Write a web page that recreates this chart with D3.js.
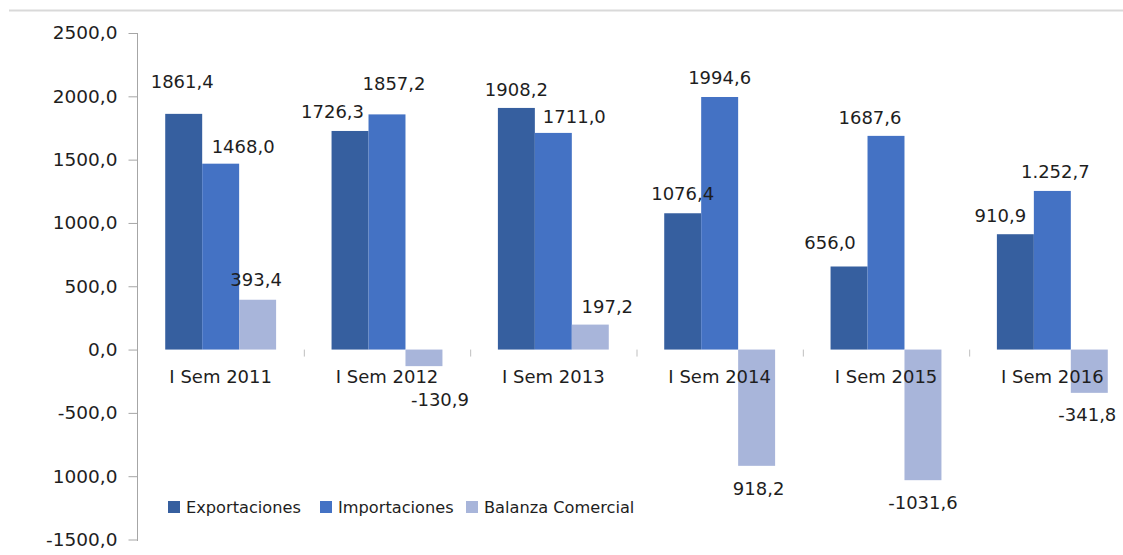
<!DOCTYPE html>
<html>
<head>
<meta charset="utf-8">
<script src="https://cdn.jsdelivr.net/npm/d3@7"></script>
<style>
  body { margin: 0; background: #fff; }
  text { font-family: "DejaVu Sans", Verdana, sans-serif; fill: #1e1e1e; }
</style>
</head>
<body>
<div id="graphic"></div>
<script>
// values
var categories = ['I Sem 2011', 'I Sem 2012', 'I Sem 2013', 'I Sem 2014', 'I Sem 2015', 'I Sem 2016'];
var seriesNames = ['Exportaciones', 'Importaciones', 'Balanza Comercial'];
var exportaciones = [1861.4, 1726.3, 1908.2, 1076.4, 656.0, 910.9];
var importaciones = [1468.0, 1857.2, 1711.0, 1994.6, 1687.6, 1252.7];
var balanza = [393.4, -130.9, 197.2, -918.2, -1031.6, -341.8];
// labels as they are printed in the original (some minus signs are missing there)
var exportLabels = ['1861,4', '1726,3', '1908,2', '1076,4', '656,0', '910,9'];
var importLabels = ['1468,0', '1857,2', '1711,0', '1994,6', '1687,6', '1.252,7'];
var balanzaLabels = ['393,4', '-130,9', '197,2', '918,2', '-1031,6', '-341,8'];
var yTicks = [2500, 2000, 1500, 1000, 500, 0, -500, -1000, -1500];
var yTickLabels = ['2500,0', '2000,0', '1500,0', '1000,0', '500,0', '0,0', '-500,0', '1000,0', '-1500,0'];

(function () {
  var width = 1123;
  var height = 555;
  var colors = ['#365f9f', '#4472c4', '#a8b5da'];

  // hand placed label nudges (label centre relative to bar end), like the excel original
  var nudges = [
    [[-1.5, -32], [-17.5, -19], [0, -18], [0, -20], [-19, -24], [-15, -19]],
    [[22.5, -17], [7, -31], [21, -16], [0, -19], [-16, -18], [3, -19]],
    [[-1.5, -20], [16, 34], [17, -18], [2, 23], [0, 23], [-2, 22]]
  ];

  var svg = d3.select('#graphic').append('svg')
    .attr('width', width)
    .attr('height', height);

  // thin rule across the top
  svg.append('line')
    .attr('x1', 9).attr('x2', width)
    .attr('y1', 10.5).attr('y2', 10.5)
    .attr('stroke', '#d9d9d9').attr('stroke-width', 2);

  var x0 = d3.scaleBand()
    .domain(categories)
    .range([137.5, 1135.5]);

  var x1 = d3.scaleBand()
    .domain(seriesNames)
    .range([x0.bandwidth() / 6, x0.bandwidth() * 5 / 6]);

  var y = d3.scaleLinear()
    .domain([-1500, 2500])
    .range([539.5, 33]);

  var table = categories.map(function (c, i) {
    return {
      cat: c,
      bars: [
        {s: seriesNames[0], v: exportaciones[i], label: exportLabels[i], k: 0, i: i},
        {s: seriesNames[1], v: importaciones[i], label: importLabels[i], k: 1, i: i},
        {s: seriesNames[2], v: balanza[i], label: balanzaLabels[i], k: 2, i: i}
      ]
    };
  });

  // y axis
  var yAxis = d3.axisLeft(y)
    .tickValues(yTicks)
    .tickSize(9)
    .tickPadding(11)
    .tickFormat(function (d, i) { return yTickLabels[i]; });

  var gy = svg.append('g')
    .attr('transform', 'translate(137.5,0)')
    .call(yAxis);
  gy.select('.domain').attr('stroke', '#a6a6a6').attr('d', 'M-0,33V541');
  gy.selectAll('.tick line').attr('stroke', '#a6a6a6');
  gy.selectAll('.tick text')
    .style('font-size', '18.5px')
    .style('font-family', '"DejaVu Sans", Verdana, sans-serif')
    .attr('fill', '#1e1e1e');

  // category separators on the zero line
  svg.append('g').selectAll('line')
    .data(categories.slice(1))
    .enter().append('line')
    .attr('x1', d => x0(d) + 0.5).attr('x2', d => x0(d) + 0.5)
    .attr('y1', y(0)).attr('y2', y(0) + 7)
    .attr('stroke', '#bfbfbf');

  // bars
  var groups = svg.append('g').selectAll('g')
    .data(table)
    .enter().append('g')
    .attr('transform', d => 'translate(' + x0(d.cat) + ',0)');

  groups.selectAll('rect')
    .data(d => d.bars)
    .enter().append('rect')
    .attr('x', d => x1(d.s))
    .attr('width', x1.bandwidth())
    .attr('y', d => y(Math.max(0, d.v)))
    .attr('height', d => Math.abs(y(d.v) - y(0)))
    .attr('fill', d => colors[d.k]);

  // category labels
  svg.append('g').selectAll('text')
    .data(categories)
    .enter().append('text')
    .attr('x', d => x0(d) + x0.bandwidth() / 2)
    .attr('y', 383)
    .attr('text-anchor', 'middle')
    .style('font-size', '18px')
    .text(d => d);

  // value labels
  groups.selectAll('text.val')
    .data(d => d.bars)
    .enter().append('text')
    .attr('class', 'val')
    .attr('x', d => x1(d.s) + x1.bandwidth() / 2 + nudges[d.k][d.i][0])
    .attr('y', d => y(d.v) + nudges[d.k][d.i][1])
    .attr('dy', '0.35em')
    .attr('text-anchor', 'middle')
    .style('font-size', '18px')
    .text(d => d.label);

  // legend
  var legendX = [168, 320, 466];
  var legend = svg.append('g').selectAll('g')
    .data(seriesNames)
    .enter().append('g')
    .attr('transform', (d, i) => 'translate(' + legendX[i] + ',501)');

  legend.append('rect')
    .attr('width', 12).attr('height', 12)
    .attr('fill', (d, i) => colors[i]);

  legend.append('text')
    .attr('x', 18)
    .attr('y', 6)
    .attr('dy', '0.35em')
    .style('font-size', '16.2px')
    .text(d => d);
})()
</script>
</body>
</html>
